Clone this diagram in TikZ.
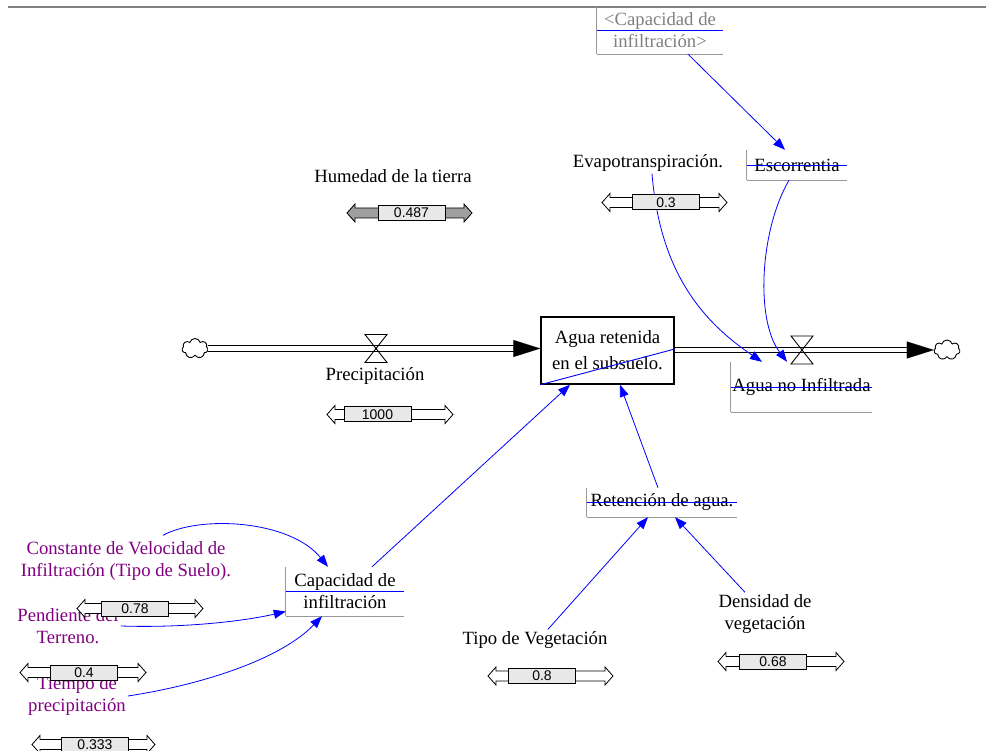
\documentclass[tikz,border=0pt]{standalone}
\usepackage{fontspec}
\setmainfont{Liberation Serif}
\newfontfamily\numfont{Liberation Sans}
\usetikzlibrary{arrows.meta,shapes.symbols}

\definecolor{vpurple}{RGB}{128,0,128}
\definecolor{sliderfill}{RGB}{232,232,232}

\tikzset{
  varlabel/.style={font=\fontsize{18.7}{22}\selectfont, align=center, inner sep=2pt},
  constlabel/.style={varlabel, text=vpurple},
  boxline/.style={draw=black!40, line width=1pt},
  strike/.style={draw=blue, line width=0.9pt},
  auxbox/.style={varlabel, inner sep=0pt, append after command={
      (\tikzlastnode.north west) edge[boxline] (\tikzlastnode.south west)
      (\tikzlastnode.south west) edge[boxline] (\tikzlastnode.south east)
      (\tikzlastnode.west) edge[strike] (\tikzlastnode.east)}},
  stockbox/.style={varlabel, draw, line width=1.5pt, minimum width=133pt, minimum height=67pt},
  link/.style={draw=blue, line width=0.8pt, -{Triangle[length=12pt,width=9pt]}},
  pipe/.style={draw=black, line width=1.3pt, double=white, double distance=4.2pt},
  flowtip/.style={line width=0.1pt, -{Triangle[length=27pt,width=17pt]}},
  valve/.style={draw, line width=0.9pt},
  cloudy/.style={cloud, cloud puffs=7, aspect=1.3, draw, line width=0.9pt, minimum width=26pt, minimum height=20pt, inner sep=0pt},
  sliderline/.style={draw, line width=0.8pt},
  sliderbox/.style={draw, line width=1pt, fill=sliderfill, minimum width=67pt, minimum height=15pt, inner sep=0pt, font=\numfont\fontsize{14}{14}\selectfont}
}

% deslizador: [relleno]{nombre}{x izq}{x caja}{x der}{y}{valor}
\newcommand{\deslizador}[7][white]{%
  \draw[sliderline, fill=#1] (#3,#6) -- ({#3+8},{#6-9}) -- ({#3+8},{#6-5}) -- ({#5-8},{#6-5}) -- ({#5-8},{#6-9}) -- (#5,#6)
     -- ({#5-8},{#6+9}) -- ({#5-8},{#6+5}) -- ({#3+8},{#6+5}) -- ({#3+8},{#6+9}) -- cycle;
  \node[sliderbox] (#2) at (#4,#6) {#7};}

\begin{document}
\begin{tikzpicture}[x=1pt,y=-1pt]
    \useasboundingbox (0,0) rectangle (986,751);
    % linea superior
    \draw[gray, line width=2pt] (8,7) -- (986,7);

    % nivel y flujos
    \node[stockbox] (stock) at (607.5,350.5) {Agua retenida\\[4pt]en el subsuelo.};
    \draw[strike] (stock.south west) -- ([yshift=1.5pt]stock.east);
    \node[cloudy] (nube1) at (195,348.5) {};
    \node[cloudy] (nube2) at (947,350) {};
    \coordinate (entra) at (nube1.east -| stock.west);
    \coordinate (sale) at (stock.east |- nube2.west);
    \draw[pipe] (nube1.east) -- ([xshift=-20pt]entra);
    \draw[flowtip] ([xshift=-27pt]entra) -- (entra);
    \draw[pipe] (sale) -- ([xshift=-20pt]nube2.west);
    \draw[flowtip] ([xshift=-27pt]nube2.west) -- (nube2.west);

    % valvulas
    \coordinate (valv1) at (376,348.5);
    \coordinate (valv2) at (802,350);
    \draw[valve] ([shift={(-11,-14)}]valv1) -- ++(22,0) -- ++(-22,28) -- ++(22,0) -- cycle;
    \draw[valve] ([shift={(-11,-14)}]valv2) -- ++(22,0) -- ++(-22,28) -- ++(22,0) -- cycle;
    \node[varlabel] (precip) at (375,376) {Precipitación};

    % variables auxiliares
    \node[auxbox, minimum width=126pt, minimum height=47pt, text=black!50] (capsombra) at (660,30.5) {<Capacidad de\\infiltración>};
    \node[auxbox, minimum width=100pt, minimum height=30pt] (escorr) at (797,165) {Escorrentia};
    \node[auxbox, minimum width=141pt, minimum height=50pt] (noinf) at (801.5,387) {Agua no Infiltrada};
    \node[auxbox, minimum width=150pt, minimum height=29pt] (reten) at (662,502.5) {Retención de agua.};
    \node[auxbox, minimum width=118pt, minimum height=49pt] (capinf) at (345,591.5) {Capacidad de\\infiltración};

    % constantes
    \node[varlabel] (humedad) at (393,176) {Humedad de la tierra};
    \node[varlabel] (evapo) at (648,163) {Evapotranspiración.};
    \node[varlabel] (tipoveg) at (535,640) {Tipo de Vegetación};
    \node[varlabel] (densveg) at (765,614) {Densidad de\\vegetación};
    \node[constlabel] (constvel) at (126,561) {Constante de Velocidad de\\Infiltración (Tipo de Suelo).};
    \node[constlabel] (pendiente) at (68,626) {Pendiente del\\Terreno.};
    \node[constlabel] (tiempo) at (77,696) {Tiempo de\\precipitación};

    % conectores
    \draw[link] ([xshift=28pt]capsombra.south) -- ([xshift=-12pt]escorr.north);
    \draw[link] ([xshift=-8pt]escorr.south) .. controls (760,230) and (755,320) .. ([xshift=-14.5pt]noinf.north);
    \draw[link] ([xshift=4pt]evapo.south) .. controls (660,270) and (700,320) .. ([xshift=-39.5pt]noinf.north);
    \draw[link] ([xshift=27pt]capinf.north) -- ([xshift=-37.5pt]stock.south);
    \draw[link] ([xshift=-4pt]reten.north) -- ([xshift=12.5pt]stock.south);
    \draw[link] ([xshift=13pt]tipoveg.north) -- ([xshift=-14pt]reten.south);
    \draw[link] ([xshift=-20pt]densveg.north) -- ([xshift=13pt]reten.south);
    \draw[link] ([xshift=37pt,yshift=4pt]constvel.north) .. controls (200,515) and (290,520) .. ([xshift=-17pt]capinf.north);
    \draw[link] (pendiente.east) .. controls (180,628) and (240,622) .. ([yshift=-20pt]capinf.west);
    \draw[link] (tiempo.east) .. controls (200,685) and (280,660) .. ([xshift=-23pt]capinf.south);

    % deslizadores
    \deslizador[gray!75]{dHumedad}{347}{411.5}{472}{213}{0.487}
    \deslizador{dEvapo}{602}{666}{727}{202.5}{0.3}
    \deslizador{dPrecip}{327}{377.5}{453}{414.5}{1000}
    \deslizador{dTipo}{488}{542}{613}{676}{0.8}
    \deslizador{dDens}{718}{773}{844}{661.5}{0.68}
    \deslizador{dConst}{77}{135}{203}{608.5}{0.78}
    \deslizador{dPend}{20}{84}{146}{672.5}{0.4}
    \deslizador{dTiempo}{32}{95}{155}{744.5}{0.333}
\end{tikzpicture}
\end{document}
